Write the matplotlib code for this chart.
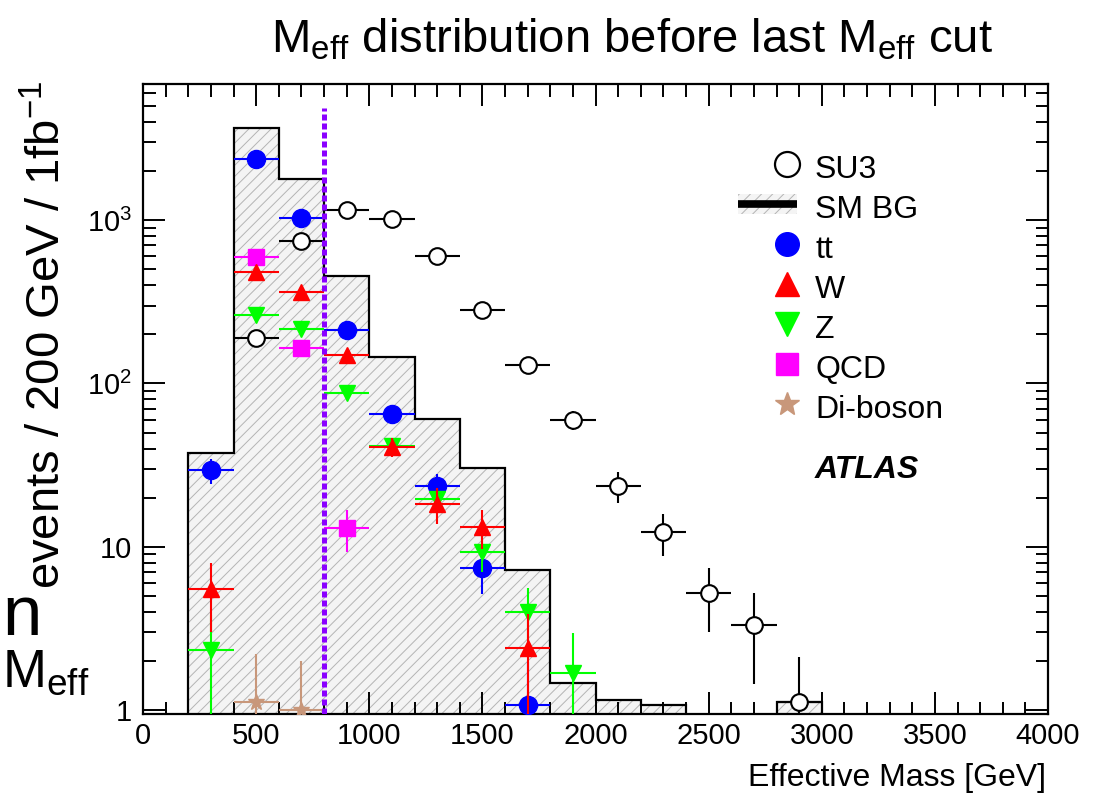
import numpy as np
import matplotlib.pyplot as plt
from matplotlib.patches import Rectangle
from matplotlib.ticker import FixedLocator, FixedFormatter, MultipleLocator

plt.rcParams['font.family'] = ['Liberation Sans', 'DejaVu Sans']
plt.rcParams['mathtext.fontset'] = 'custom'
plt.rcParams['mathtext.rm'] = 'Liberation Sans'
plt.rcParams['mathtext.it'] = 'Liberation Sans:italic'
plt.rcParams['mathtext.bf'] = 'Liberation Sans:bold'
plt.rcParams['hatch.linewidth'] = 0.7

# ---- SM background, 200 GeV bins ----
edges = np.arange(200, 3001, 200)
sm_bg = [37.6, 3650, 1780, 455, 146, 61, 30.4, 7.2, 1.48, 1.16, 1.08, 0, 0, 1.13]

# ---- SU3 signal ----
su3_x = [500, 700, 900, 1100, 1300, 1500, 1700, 1900, 2100, 2300, 2500, 2700, 2900]
su3_y = [190, 745, 1150, 1020, 600, 280, 129, 60, 23.6, 12.4, 5.2, 3.35, 1.13]
su3_err = [14, 27, 34, 32, 24, 17, 11, 8, 5, 3.6, 2.2, 1.9, 1.0]

# ---- background components ----
tt_x = [300, 500, 700, 900, 1100, 1300, 1500, 1700]
tt_y = [29.4, 2360, 1030, 211, 65.5, 23.5, 7.45, 1.08]
tt_err = [5, 45, 30, 13, 7.5, 4.4, 2.3, 0.9]

w_x = [300, 500, 700, 900, 1100, 1300, 1500, 1700]
w_y = [5.5, 482, 363, 149, 41, 18.4, 13.3, 2.4]
w_err = [2.5, 19, 16, 10, 5.5, 4.5, 3.6, 1.5]

z_x = [300, 500, 700, 900, 1100, 1300, 1500, 1700, 1900]
z_y = [2.35, 262, 215, 87.5, 41.5, 19.6, 9.3, 4.0, 1.7]
z_err = [1.5, 11, 10, 6, 4.5, 3, 2.3, 1.6, 1.26]

qcd_x = [500, 700, 900]
qcd_y = [594, 165, 13.1]
qcd_err = [20, 12, 3.8]

dib_x = [500, 700]
dib_y = [1.12, 1.0]
dib_err = [1.1, 1.0]

meff_cut = 800
half_bin = 100

BLUE, RED, GREEN, MAGENTA, TAN = '#0000ff', '#ff0000', '#00ff00', '#ff00ff', '#c8977a'
PURPLE = '#8a00ff'

fig = plt.figure(figsize=(11.09, 7.94), dpi=100)
ax = fig.add_axes([143 / 1109, 1 - 714 / 794, 905 / 1109, 630 / 794])
ax.set_yscale('log')
ax.set_xlim(0, 4000)
ax.set_ylim(0.95, 6800)

# stacked SM background: hatched fill + black outline
vals = np.where(np.array(sm_bg) > 0, sm_bg, 1e-3)
ax.stairs(vals, edges, baseline=1e-3, fill=True, facecolor='#f4f4f4',
          edgecolor='#b4b4b4', hatch='///', linewidth=0, zorder=1)
ax.stairs(vals, edges, baseline=1e-3, fill=False, color='black', lw=1.6, zorder=2)

ebar = dict(xerr=half_bin, elinewidth=1.5, capsize=0, linestyle='none')
ax.errorbar(su3_x, su3_y, yerr=su3_err, marker='o', ms=12, mfc='white', mec='black',
            mew=1.5, ecolor='black', zorder=3, **ebar)
ax.errorbar(tt_x, tt_y, yerr=tt_err, marker='o', ms=13, color=BLUE, zorder=4, **ebar)
ax.errorbar(z_x, z_y, yerr=z_err, marker='v', ms=12, color=GREEN, zorder=5, **ebar)
ax.errorbar(qcd_x, qcd_y, yerr=qcd_err, marker='s', ms=12, color=MAGENTA, zorder=6, **ebar)
ax.errorbar(w_x, w_y, yerr=w_err, marker='^', ms=12, color=RED, zorder=7, **ebar)
ax.errorbar(dib_x, dib_y, yerr=dib_err, marker='*', ms=12, color=TAN, zorder=8, **ebar)

# last M_eff cut
ax.vlines(meff_cut, 0.95, 4850, colors=PURPLE, lw=3.6,
          linestyles=(0, (1.2, 0.6)), zorder=10)

# axes styling
for s in ax.spines.values():
    s.set_linewidth(1.6)
ax.xaxis.set_major_locator(MultipleLocator(500))
ax.xaxis.set_minor_locator(MultipleLocator(100))
ax.yaxis.set_major_locator(FixedLocator([1, 10, 100, 1000]))
ax.yaxis.set_major_formatter(FixedFormatter(['1', '10', '$10^{2}$', '$10^{3}$']))
ax.tick_params(which='both', direction='in', top=True, right=True, width=1.4,
               labelsize=21)
ax.tick_params(which='major', length=16, pad=6)
ax.tick_params(which='minor', length=9)
ax.tick_params(axis='y', which='major', pad=8)

# legend keys
leg_x, txt_x = 787, 815
base0, step = 178, 40
def fx(px):
    return (px - 143) / 905
def fy(py):
    return (714 - py) / 630

legend_entries = ['SU3', 'SM BG', 'tt', 'W', 'Z', 'QCD', 'Di-boson']
legend_styles = [dict(marker='o', ms=18, mfc='white', mec='black', mew=1.6),
                 None,
                 dict(marker='o', ms=17, color=BLUE),
                 dict(marker='^', ms=17, color=RED),
                 dict(marker='v', ms=17, color=GREEN),
                 dict(marker='s', ms=16, color=MAGENTA),
                 dict(marker='*', ms=18, color=TAN)]
for i, (lab, st) in enumerate(zip(legend_entries, legend_styles)):
    b = base0 + step * i
    yc = b - 14
    if st is None:
        ax.add_patch(Rectangle((fx(738), fy(214)), fx(797) - fx(738), fy(194) - fy(214),
                               transform=ax.transAxes, facecolor='#f4f4f4',
                               edgecolor='#b4b4b4', hatch='///', lw=0, clip_on=False))
        ax.plot([fx(738), fx(797)], [fy(yc), fy(yc)], transform=ax.transAxes,
                color='black', lw=5.5, solid_capstyle='butt', clip_on=False)
    else:
        ax.plot([fx(leg_x)], [fy(yc)], transform=ax.transAxes, linestyle='none',
                clip_on=False, **st)
    ax.text(fx(txt_x), fy(b), lab, transform=ax.transAxes, fontsize=23,
            va='baseline', ha='left')
ax.text(fx(txt_x), fy(478), 'ATLAS', transform=ax.transAxes, fontsize=23,
        fontweight='bold', fontstyle='italic', va='baseline', ha='left')

# titles and labels
fig.text(632 / 1109, 1 - 53 / 794, r'M$_{\mathrm{eff}}$ distribution before last M$_{\mathrm{eff}}$ cut',
         fontsize=34, ha='center', va='baseline')
fig.text(48 / 1109, 1 - 335 / 794, r'events / 200 GeV / 1fb$^{-1}$', fontsize=34,
         rotation=90, ha='center', va='center')
fig.text(1046 / 1109, 1 - 786 / 794, 'Effective Mass [GeV]', fontsize=23,
         ha='right', va='baseline')

# side-slide text at the left margin
fig.text(2 / 1109, 1 - 635 / 794, 'n', fontsize=51, ha='left', va='baseline')
fig.text(2 / 1109, 1 - 687 / 794, r'M$_{\mathrm{eff}}$', fontsize=38, ha='left', va='baseline')

fig.savefig('out.png', dpi=100)
